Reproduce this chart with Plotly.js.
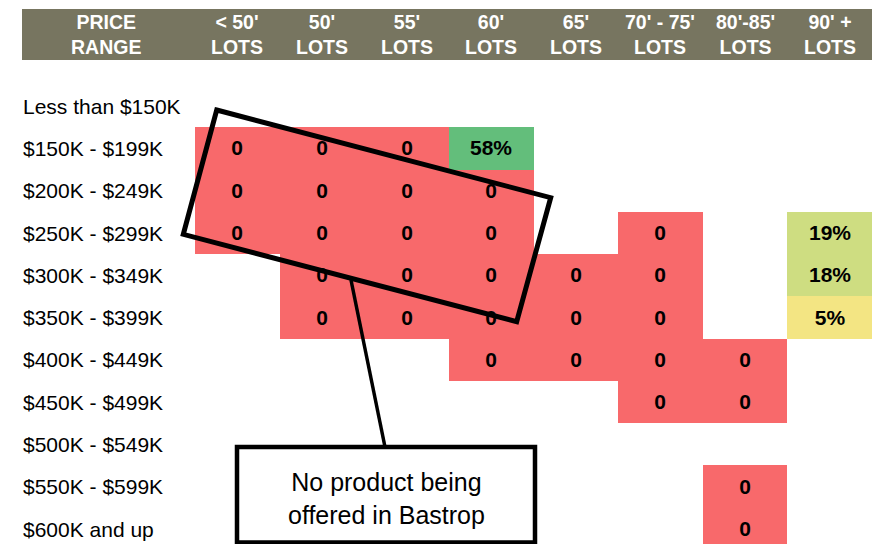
<!DOCTYPE html>
<html>
<head>
<meta charset="utf-8">
<script src="https://cdn.plot.ly/plotly-3.0.1.min.js"></script>
<style>html,body{margin:0;padding:0;background:#fff;}#chart{width:875px;height:544px;}</style>
</head>
<body>
<div id="chart"></div>
<script>
// Column headers (lot sizes)
const lotTop = ["< 50'", "50'", "55'", "60'", "65'", "70' - 75'", "80'-85'", "90' +"];
const lotBottom = ["LOTS", "LOTS", "LOTS", "LOTS", "LOTS", "LOTS", "LOTS", "LOTS"];
// Row labels (price ranges)
const priceRanges = [
  "Less than $150K", "$150K - $199K", "$200K - $249K", "$250K - $299K",
  "$300K - $349K", "$350K - $399K", "$400K - $449K", "$450K - $499K",
  "$500K - $549K", "$550K - $599K", "$600K and up"
];
// Share of product by price range (rows) and lot size (columns); null = no cell
const lt50  = [null, 0, 0, 0, null, null, null, null, null, null, null];
const l50   = [null, 0, 0, 0, 0, 0, null, null, null, null, null];
const l55   = [null, 0, 0, 0, 0, 0, null, null, null, null, null];
const l60   = [null, 0.58, 0, 0, 0, 0, 0, null, null, null, null];
const l65   = [null, null, null, null, 0, 0, 0, null, null, null, null];
const l70_75 = [null, null, null, 0, 0, 0, 0, 0, null, null, null];
const l80_85 = [null, null, null, null, null, null, 0, 0, null, 0, 0];
const l90p  = [null, null, null, 0.19, 0.18, 0.05, null, null, null, null, null];

const columns = [lt50, l50, l55, l60, l65, l70_75, l80_85, l90p];
const colKeys = lotTop.map((t, i) => t + " " + lotBottom[i]);

const z = priceRanges.map((_, r) => columns.map(c => c[r]));
const text = z.map(row => row.map(v => v === null ? "" : (v === 0 ? "0" : Math.round(v * 100) + "%")));

const FONT = "Liberation Sans, Arial, sans-serif";
const zmax = 0.58;
const colorscale = [
  [0, "#F8696B"],
  [0.05 / zmax, "#F3E583"],
  [0.18 / zmax, "#CEDD81"],
  [0.19 / zmax, "#CEDD81"],
  [1, "#63BE7B"]
];

const trace = {
  type: "heatmap",
  x: colKeys,
  y: priceRanges,
  z: z,
  text: text,
  texttemplate: "%{text}",
  textfont: {family: FONT, size: 21, color: "#000", weight: 700},
  colorscale: colorscale,
  zmin: 0, zmax: zmax,
  showscale: false,
  xgap: 0, ygap: 0,
  hoverinfo: "skip"
};

// pixel -> paper helpers for decorations
const L = 195, T = 85, W = 677, H = 459;
const px = x => (x - L) / W;
const py = y => (T + H - y) / H;

const annotations = [];
// header labels
annotations.push({
  text: "PRICE<br>RANGE", xref: "paper", yref: "paper", x: px(106), y: py(34.5),
  xanchor: "center", yanchor: "middle", showarrow: false,
  font: {family: FONT, size: 19.5, color: "#fff", weight: 700}
});
colKeys.forEach((k, i) => {
  annotations.push({
    text: lotTop[i].replace("<", "&lt;") + "<br>" + lotBottom[i], xref: "x", yref: "paper", x: k, y: py(34.5),
    xanchor: "center", yanchor: "middle", showarrow: false,
    font: {family: FONT, size: 19.5, color: "#fff", weight: 700}
  });
});
// row labels
priceRanges.forEach(p => {
  annotations.push({
    text: p, xref: "paper", yref: "y", x: px(21), y: p,
    xanchor: "left", yanchor: "middle", showarrow: false,
    font: {family: FONT, size: 21, color: "#000"}
  });
});
// callout text
annotations.push({
  text: "No product being<br>offered in Bastrop", xref: "paper", yref: "paper",
  x: px(386), y: py(498), xanchor: "center", yanchor: "middle", showarrow: false,
  font: {family: FONT, size: 25, color: "#000"}
});

const rotPath = "M " + px(216.7) + " " + py(110) +
  " L " + px(550.7) + " " + py(197.7) +
  " L " + px(516.7) + " " + py(321.7) +
  " L " + px(183.3) + " " + py(234.3) + " Z";

const shapes = [
  {type: "rect", xref: "paper", yref: "paper", x0: px(22), x1: px(872), y0: py(60), y1: py(9),
   fillcolor: "#777560", line: {width: 0}, layer: "below"},
  {type: "path", xref: "paper", yref: "paper", path: rotPath, line: {color: "#000", width: 5}, fillcolor: "rgba(0,0,0,0)"},
  {type: "line", xref: "paper", yref: "paper", x0: px(351), y0: py(280), x1: px(385), y1: py(447), line: {color: "#000", width: 3.5}},
  {type: "rect", xref: "paper", yref: "paper", x0: px(237), x1: px(535), y0: py(542.5), y1: py(447),
   fillcolor: "#fff", line: {color: "#000", width: 4.5}}
];

const layout = {
  width: 875, height: 544,
  margin: {l: L, r: 875 - L - W, t: T, b: 544 - T - H, pad: 0},
  paper_bgcolor: "#fff", plot_bgcolor: "#fff",
  font: {family: FONT},
  xaxis: {type: "category", range: [-0.5, 7.5], showgrid: false, zeroline: false, showticklabels: false, ticks: "", showline: false, fixedrange: true},
  yaxis: {type: "category", range: [-0.5 + H / 42.3, -0.5], showgrid: false, zeroline: false, showticklabels: false, ticks: "", showline: false, fixedrange: true},
  shapes: shapes,
  annotations: annotations,
  showlegend: false
};

Plotly.newPlot("chart", [trace], layout, {displayModeBar: false, staticPlot: true});
</script>
</body>
</html>
